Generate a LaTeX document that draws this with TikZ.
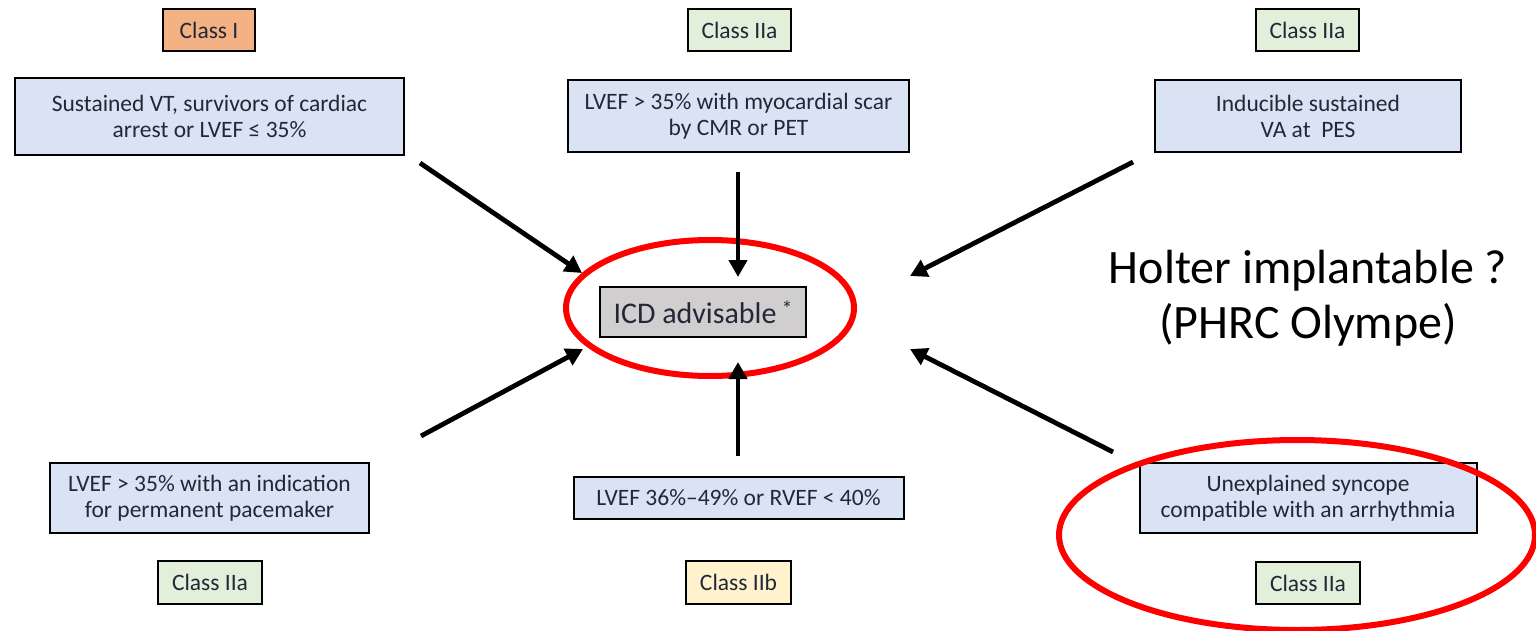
\documentclass[tikz,border=0pt]{standalone}
\usepackage{fontspec}
\setmainfont{Carlito}
\usetikzlibrary{arrows.meta,shapes.geometric}
\definecolor{boxblue}{HTML}{DAE3F3}
\definecolor{clsorange}{HTML}{F4B183}
\definecolor{clsgreen}{HTML}{E2EFDA}
\definecolor{clsyellow}{HTML}{FFF2CC}
\definecolor{icdgray}{HTML}{D0CECE}
\definecolor{txt}{HTML}{222838}
\definecolor{ringred}{HTML}{FF0000}
\tikzset{
  critbox/.style={draw=black, line width=2pt, fill=boxblue, text=txt, inner sep=0pt, align=center, font=\fontsize{23.5}{26}\selectfont},
  clsbox/.style={draw=black, line width=2pt, text=txt, inner sep=0pt, align=center, font=\fontsize{23.5}{26}\selectfont},
  arr/.style={line width=4.8pt, -{Triangle[length=17pt,width=18pt]}},
  ring/.style={draw=ringred, line width=6pt, ellipse, inner sep=0pt}
}
\begin{document}
\begin{tikzpicture}[x=1pt,y=-1pt]
\useasboundingbox (0,0) rectangle (1536,631);
% class labels
\node[clsbox, fill=clsorange, minimum width=92pt, minimum height=42pt] (c1) at (209,30) {Class I};
\node[clsbox, fill=clsgreen, minimum width=103pt, minimum height=42pt] (c2) at (739.5,30) {Class IIa};
\node[clsbox, fill=clsgreen, minimum width=103pt, minimum height=42pt] (c3) at (1307.5,30) {Class IIa};
\node[clsbox, fill=clsgreen, minimum width=104pt, minimum height=43pt] (c4) at (210,582.5) {Class IIa};
\node[clsbox, fill=clsyellow, minimum width=105pt, minimum height=43pt] (c5) at (738.5,582.5) {Class IIb};
\node[clsbox, fill=clsgreen, minimum width=104pt, minimum height=42pt] (c6) at (1308,583) {Class IIa};
% criteria boxes
\node[critbox, minimum width=389pt, minimum height=77pt] (b1) at (209.5,116.5) {Sustained VT, survivors of cardiac\\arrest or LVEF ≤ 35\%};
\node[critbox, minimum width=341pt, minimum height=72pt] (b2) at (738.5,116) {LVEF > 35\% with myocardial scar\\by CMR or PET};
\node[critbox, minimum width=306pt, minimum height=72pt] (b3) at (1308,116) {Inducible sustained\\VA at\ \ PES};
\node[critbox, minimum width=319pt, minimum height=70pt] (b4) at (209.5,498) {LVEF > 35\% with an indication\\for permanent pacemaker};
\node[critbox, minimum width=330pt, minimum height=42pt] (b5) at (738.5,498) {LVEF 36\%–49\% or RVEF < 40\%};
\node[critbox, minimum width=337pt, minimum height=70pt] (b6) at (1308,498) {Unexplained syncope\\compatible with an arrhythmia};
% center
\node[draw=black, line width=2pt, fill=icdgray, text=txt, minimum width=206pt, minimum height=50pt, inner sep=0pt, font=\fontsize{30}{34}\selectfont] (icd) at (703,312) {ICD advisable\,\raisebox{0.5ex}{\fontsize{22}{22}\selectfont *}};
\node[ring, minimum width=288pt, minimum height=136pt] (r1) at (710,308) {};
\node[ring, minimum width=476pt, minimum height=190pt] (r2) at (1297,535) {};
% side text
\node[font=\fontsize{48}{55}\selectfont, align=center, text=black] (holter) at (1308,298) {Holter implantable ?\\(PHRC Olympe)};
% arrow coordinates
\coordinate (s1) at (420,163); \coordinate (e1) at (582,273);
\coordinate (s2) at (738,172); \coordinate (e2) at (738,277);
\coordinate (s3) at (1133,162); \coordinate (e3) at (910,276);
\coordinate (s4) at (421,436); \coordinate (e4) at (583,349);
\coordinate (s5) at (738,456); \coordinate (e5) at (738,362);
\coordinate (s6) at (1113,452); \coordinate (e6) at (910,349);
\draw[arr] (s1) -- (e1);
\draw[arr] (s2) -- (e2);
\draw[arr] (s3) -- (e3);
\draw[arr] (s4) -- (e4);
\draw[arr] (s5) -- (e5);
\draw[arr] (s6) -- (e6);
\end{tikzpicture}
\end{document}
